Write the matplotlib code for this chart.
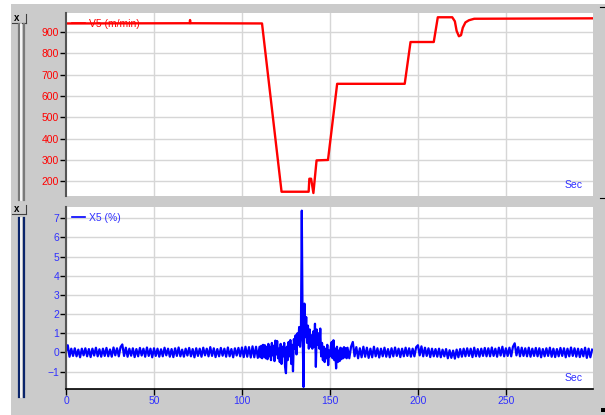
import numpy as np
import matplotlib
matplotlib.use('Agg')
import matplotlib.pyplot as plt
from matplotlib.lines import Line2D
from matplotlib.patches import Rectangle

plt.rcParams['font.family'] = ['Liberation Sans', 'DejaVu Sans']

# V5 line speed (m/min), breakpoints
v5_time = [0, 70.3, 70.5, 70.7, 111.4, 122.5, 137.9, 138.3, 139.3, 140.6, 142.4, 148.9,
           154.1, 192.5, 195.8, 209.0, 211.3, 219.5, 221.0, 222.0, 223.3, 224.5, 225.5,
           227.0, 229.0, 232.0, 299.5]
v5_speed = [940, 941, 956, 941, 940, 151, 151, 212, 212, 145, 298, 300,
            657, 657, 853, 853, 969, 969, 950, 905, 880, 885, 920,
            945, 955, 962, 964]

# X5 (%) signal, 1 s steps before 110 s and after 160 s, 0.5 s steps in between
x5_early = [0.05, 0.38, -0.22, 0.2, -0.18, 0.22, -0.2, 0.15, -0.25, 0.2,
            -0.15, 0.22, -0.2, 0.18, -0.24, 0.2, -0.16, 0.25, -0.2, 0.17,
            -0.22, 0.2, -0.18, 0.24, -0.2, 0.16, -0.22, 0.26, -0.15, 0.22,
            -0.2, 0.28, 0.42, -0.18, 0.25, -0.22, 0.2, -0.17, 0.22, -0.24,
            0.18, -0.2, 0.24, -0.16, 0.2, -0.22, 0.26, -0.18, 0.2, -0.25,
            0.22, -0.18, 0.2, -0.22, 0.17, -0.2, 0.25, -0.15, 0.2, -0.22,
            0.18, -0.24, 0.22, -0.18, 0.26, -0.2, 0.15, -0.22, 0.2, -0.16,
            0.24, -0.2, 0.18, -0.25, 0.22, -0.18, 0.2, -0.22, 0.25, -0.15,
            0.2, -0.2, 0.28, -0.18, 0.22, -0.24, 0.18, -0.2, 0.24, -0.17,
            0.2, -0.22, 0.26, -0.2, 0.18, -0.25, 0.22, -0.16, 0.24, -0.2,
            0.26, -0.24, 0.3, -0.22, 0.28, -0.26, 0.32, -0.25, 0.3, -0.28]
x5_event = [0.3, -0.25, 0.35, -0.3, 0.4, -0.2, 0.38, -0.3, 0.3, -0.35,
            0.45, -0.2, 0.3, -0.4, 0.5, -0.15, 0.35, -0.45, 0.62, -0.1,
            0.6, -0.3, 0.2, -0.5, 0.45, -0.6, 0.3, -0.2, 0.5, -0.75,
            -1.08, 0.3, -0.4, 0.55, -0.2, 0.65, -0.6, 0.4, -0.98, 0.7,
            0.2, 0.9, -0.1, 1.0, 0.4, 1.33, 0.3, 0.9, 7.4, 0.9,
            -1.8, 2.55, 0.8, 1.85, 0.5, 1.4, 0.2, 1.2, 0.3, 0.9,
            0.2, 1.1, 0.3, 1.5, -0.75, 1.2, 0.4, 1.0, 0.2, 1.25,
            -0.2, 0.5, -0.4, 0.3, -0.5, 0.2, -0.3, 0.4, -0.66, 0.1,
            -0.2, 0.3, 0.55, -0.3, 0.64, -0.4, 0.2, -0.83, 0.3, -0.5,
            0.1, -0.45, 0.25, -0.35, 0.2, -0.3, 0.28, -0.25, 0.22, -0.3]
x5_late = [0.25, -0.3, 0.3, 0.55, -0.2, 0.28, -0.3, 0.22, -0.25, 0.3,
           -0.22, 0.25, -0.28, 0.2, -0.25, 0.3, -0.2, 0.22, -0.26, 0.2,
           -0.2, 0.25, -0.22, 0.18, -0.25, 0.22, -0.2, 0.26, -0.18, 0.2,
           -0.24, 0.2, -0.2, 0.25, -0.18, 0.22, -0.22, 0.2, -0.2, 0.28,
           0.38, -0.15, 0.32, -0.2, 0.25, -0.18, 0.22, -0.24, 0.2, -0.2,
           0.18, -0.22, 0.2, -0.25, 0.15, -0.2, 0.18, -0.3, 0.12, -0.28,
           0.1, -0.32, 0.15, -0.25, 0.18, -0.22, 0.2, -0.2, 0.22, -0.18,
           0.2, -0.24, 0.25, -0.2, 0.18, -0.22, 0.2, -0.18, 0.24, -0.2,
           0.22, -0.2, 0.26, -0.18, 0.2, -0.22, 0.25, -0.16, 0.3, -0.2,
           0.22, -0.18, 0.25, -0.2, 0.3, 0.48, -0.15, 0.28, -0.2, 0.25,
           -0.18, 0.22, -0.2, 0.25, -0.22, 0.2, -0.18, 0.24, -0.2, 0.22,
           -0.25, 0.18, -0.2, 0.22, -0.18, 0.25, -0.22, 0.2, -0.24, 0.18,
           -0.2, 0.24, -0.18, 0.22, -0.25, 0.2, -0.2, 0.26, -0.18, 0.22,
           -0.22, 0.2, -0.24, 0.18, -0.2, 0.25, -0.28, 0.2, -0.25, 0.15]

x5_time = np.concatenate([np.arange(0, 110, 1.0), np.arange(110, 160, 0.5),
                          np.arange(160, 300, 1.0)])
x5_value = np.array(x5_early + x5_event + x5_late)

x_ticks = [0, 50, 100, 150, 200, 250]
v5_ticks = [200, 300, 400, 500, 600, 700, 800, 900]
x5_ticks = [-1, 0, 1, 2, 3, 4, 5, 6, 7]

RED = '#ff0000'
BLUE = '#0000ff'
BLUE_TXT = '#3030ff'
GRID = '#d6d6d6'
PANEL = '#cbcbcb'

W, H = 605, 415


def box(x0, y0, x1, y1):
    # pixel box (top-left origin) -> figure fraction rect
    return [x0 / W, 1 - y1 / H, (x1 - x0) / W, (y1 - y0) / H]


def fx(x):
    return x / W


def fy(y):
    return 1 - y / H


fig = plt.figure(figsize=(6.05, 4.15), dpi=100, facecolor='white')
fig.add_artist(Rectangle((fx(11), 0), 1 - fx(11), fy(4), transform=fig.transFigure,
                         facecolor=PANEL, edgecolor='none', zorder=-10))

ax1 = fig.add_axes(box(66, 13, 593, 196))
ax2 = fig.add_axes(box(66, 207, 593, 389.3))

ax1.plot(v5_time, v5_speed, color=RED, lw=1.7, label='V5 (m/min)')
ax1.set_xlim(0, 299.5)
ax1.set_ylim(131, 989)
ax1.set_yticks(v5_ticks)
ax1.set_xticks(x_ticks[1:])
ax1.tick_params(axis='x', length=0, labelbottom=False)
ax1.tick_params(axis='y', colors='black', labelcolor=RED, labelsize=7.5, length=4, width=1, pad=1)

ax2.plot(x5_time, x5_value, color=BLUE, lw=1.6, label='X5 (%)')
ax2.set_xlim(0, 299.5)
ax2.set_ylim(-1.92, 7.59)
ax2.set_yticks(x5_ticks)
ax2.set_xticks(x_ticks)
ax2.tick_params(axis='both', colors='black', labelcolor=BLUE_TXT, labelsize=7.5,
                length=4, width=1, pad=1)

for ax, color in [(ax1, RED), (ax2, BLUE_TXT)]:
    ax.set_facecolor('white')
    ax.grid(True, color=GRID, lw=1.0)
    ax.set_axisbelow(True)
    for s in ['top', 'right']:
        ax.spines[s].set_visible(False)
    ax.spines['left'].set_color('#555555')
    ax.spines['left'].set_linewidth(1.5)
    leg = ax.legend(loc='upper left', bbox_to_anchor=(0.0, 1.0), frameon=False,
                    fontsize=7.5, handlelength=1.3, handletextpad=0.4,
                    borderaxespad=0.15, labelcolor=color)
    for line in leg.get_lines():
        line.set_linewidth(1.2)
    ax.text(0.964, 0.06, 'Sec', transform=ax.transAxes, color=BLUE_TXT,
            fontsize=7.5, ha='center', va='center')

ax1.spines['bottom'].set_visible(False)
ax2.spines['bottom'].set_color('black')
ax2.spines['bottom'].set_linewidth(1.2)

# left-hand panel widgets: close buttons and splitter bars
for top, bar0, bar1, bar_col in [(14, 24, 200, '#7a7a7a'), (205, 218, 397, '#0a246a')]:
    fig.text(fx(17), fy(top + 4), 'x', fontsize=7, fontweight='bold', color='black',
             ha='center', va='center')
    fig.add_artist(Line2D([fx(26), fx(26)], [fy(top), fy(top + 9)], color='#404040', lw=0.8))
    fig.add_artist(Line2D([fx(12), fx(26)], [fy(top + 9), fy(top + 9)], color='#404040', lw=0.8))
    for x in (18.5, 23.5):
        fig.add_artist(Line2D([fx(x), fx(x)], [fy(bar0), fy(bar1)], color=bar_col, lw=1.6))
    fig.add_artist(Line2D([fx(21), fx(21)], [fy(bar0), fy(bar1)], color='white', lw=1.2))
    fig.add_artist(Line2D([fx(600), fx(605)], [fy(top - 7), fy(top - 7)], color='black', lw=0.8))

fig.add_artist(Rectangle((fx(601), fy(412)), fx(4), 4 / H, transform=fig.transFigure,
                         facecolor='black', edgecolor='none'))

fig.savefig('out.png', dpi=100, facecolor=fig.get_facecolor())
